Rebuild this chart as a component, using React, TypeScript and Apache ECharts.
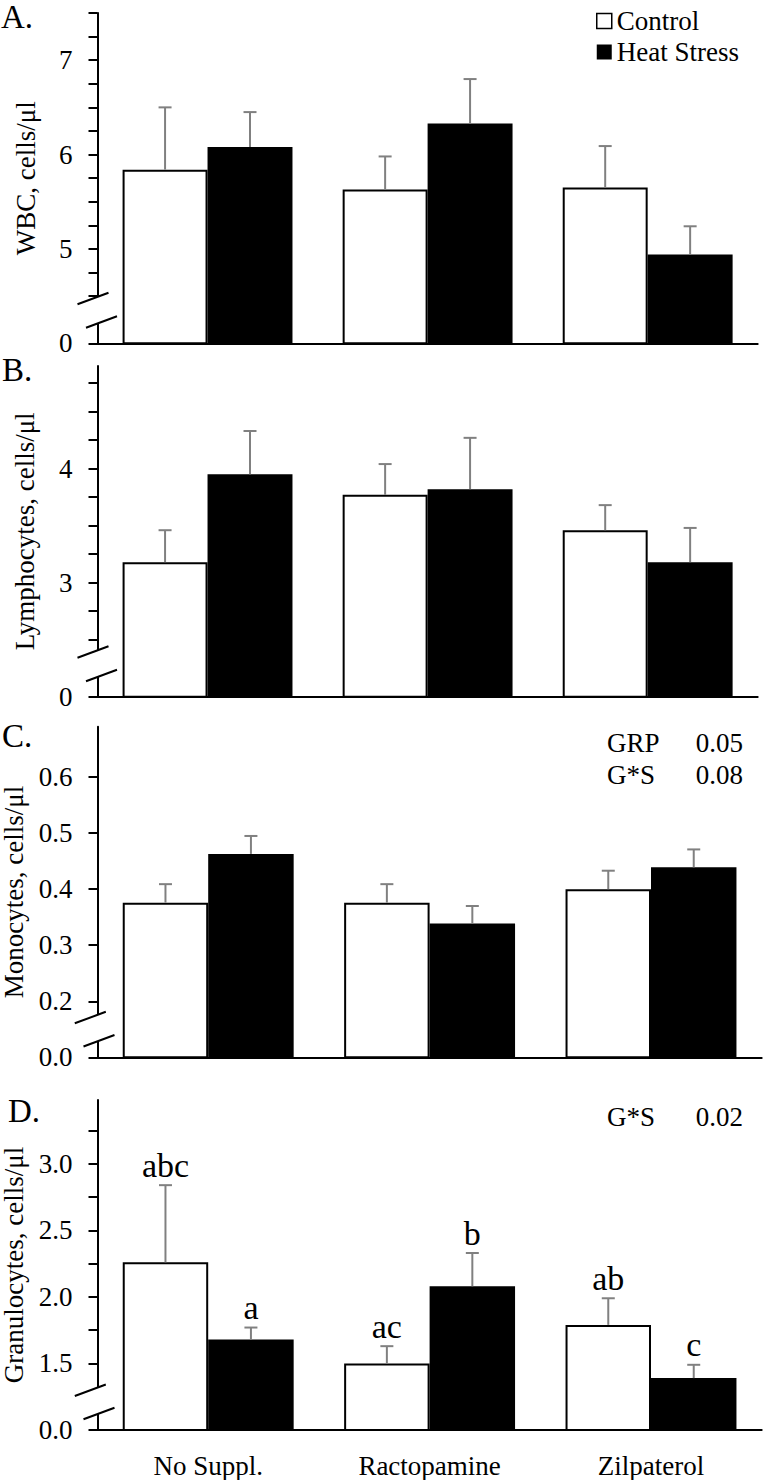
import React, { useEffect, useRef } from 'react';
import * as echarts from 'echarts';

const FONT = 'Liberation Serif, Times New Roman, serif';
const FS = 27;

const categories = ['No Suppl.', 'Ractopamine', 'Zilpaterol'];
const groupNames = ['Control', 'Heat Stress'];

// A. WBC
const wbcControl = [5.84, 5.63, 5.65];
const wbcControlSE = [0.66, 0.35, 0.44];
const wbcHeat = [6.08, 6.33, 4.94];
const wbcHeatSE = [0.37, 0.47, 0.3];
const wbcZero = 4.0; // axis position standing for 0 below the break
const wbcMax = 7.5;
const wbcTicks = [4.0, 4.5, 4.75, 5, 5.25, 5.5, 5.75, 6, 6.25, 6.5, 6.75, 7, 7.25, 7.5];
const wbcLabels = [5, 6, 7];

// B. Lymphocytes
const lymControl = [3.18, 3.77, 3.46];
const lymControlSE = [0.28, 0.27, 0.22];
const lymHeat = [3.95, 3.82, 3.18];
const lymHeatSE = [0.38, 0.45, 0.3];
const lymZero = 2.0;
const lymMax = 4.9;
const lymTicks = [2.0, 2.5, 2.75, 3, 3.25, 3.5, 3.75, 4, 4.25, 4.5, 4.75];
const lymLabels = [3, 4];

// C. Monocytes
const monControl = [0.376, 0.376, 0.4];
const monControlSE = [0.033, 0.033, 0.033];
const monHeat = [0.463, 0.339, 0.439];
const monHeatSE = [0.032, 0.031, 0.032];
const monZero = 0.1;
const monMax = 0.69;
const monTicks = [0.1, 0.2, 0.3, 0.4, 0.5, 0.6];
const monLabels = [0.2, 0.3, 0.4, 0.5, 0.6];
const monStats = [['GRP', '0.05'], ['G*S', '0.08']];

// D. Granulocytes
const graControl = [2.26, 1.5, 1.79];
const graControlSE = [0.58, 0.13, 0.2];
const graHeat = [1.68, 2.08, 1.39];
const graHeatSE = [0.09, 0.25, 0.1];
const graZero = 1.0;
const graMax = 3.48;
const graTicks = [1.0, 1.5, 1.75, 2, 2.25, 2.5, 2.75, 3, 3.25];
const graLabels = [1.5, 2, 2.5, 3];
const graControlLetters = ['abc', 'ac', 'ab'];
const graHeatLetters = ['a', 'b', 'c'];
const graStats = [['G*S', '0.02']];

const panels = [
  { letter: 'A.', name: 'WBC, cells/μl', ctrl: wbcControl, ctrlSE: wbcControlSE, heat: wbcHeat, heatSE: wbcHeatSE, zero: wbcZero, zeroText: '0', max: wbcMax, ticks: wbcTicks, labels: wbcLabels, digits: 0, ctrlLetters: null as string[] | null, heatLetters: null as string[] | null, stats: [] as string[][] },
  { letter: 'B.', name: 'Lymphocytes, cells/μl', ctrl: lymControl, ctrlSE: lymControlSE, heat: lymHeat, heatSE: lymHeatSE, zero: lymZero, zeroText: '0', max: lymMax, ticks: lymTicks, labels: lymLabels, digits: 0, ctrlLetters: null, heatLetters: null, stats: [] },
  { letter: 'C.', name: 'Monocytes, cells/μl', ctrl: monControl, ctrlSE: monControlSE, heat: monHeat, heatSE: monHeatSE, zero: monZero, zeroText: '0.0', max: monMax, ticks: monTicks, labels: monLabels, digits: 1, ctrlLetters: null, heatLetters: null, stats: monStats },
  { letter: 'D.', name: 'Granulocytes, cells/μl', ctrl: graControl, ctrlSE: graControlSE, heat: graHeat, heatSE: graHeatSE, zero: graZero, zeroText: '0.0', max: graMax, ticks: graTicks, labels: graLabels, digits: 1, ctrlLetters: graControlLetters, heatLetters: graHeatLetters, stats: graStats },
];

// pixel layout of each panel
const AX_LEFT = 97.5;
const layout = [
  { top: 13, bottom: 343.3, right: 757.7, nameGap: 58, letterX: 1, letterY: 16.5, brk: 0, statsY: 0 },
  { top: 366, bottom: 696.7, right: 757.7, nameGap: 59, letterX: 2, letterY: 370, brk: 0, statsY: 0 },
  { top: 726.7, bottom: 1057.3, right: 761.7, nameGap: 62, letterX: 2, letterY: 736, brk: 1, statsY: 742.7 },
  { top: 1100, bottom: 1430, right: 761.7, nameGap: 62, letterX: 8, letterY: 1111, brk: 1, statsY: 1116.7 },
];

const makeErr = (side: number, letters: string[] | null) => (params: any, api: any) => {
  const ci = api.value(0);
  const m = api.value(1);
  const se = api.value(2);
  const band = api.size([1, 0])[0];
  const p0 = api.coord([ci, m]);
  const p1 = api.coord([ci, m + se]);
  const x = p0[0] + side * band * 0.193;
  const st = { stroke: '#808080', lineWidth: 2 };
  const children: any[] = [
    { type: 'line', shape: { x1: x, y1: p0[1], x2: x, y2: p1[1] }, style: st },
    { type: 'line', shape: { x1: x - 6.5, y1: p1[1], x2: x + 6.5, y2: p1[1] }, style: st },
  ];
  if (letters) {
    children.push({
      type: 'text',
      x,
      y: p1[1] - 3,
      style: { text: letters[params.dataIndex], fill: '#000', fontSize: 34, fontFamily: FONT, align: 'center', verticalAlign: 'bottom' },
    });
  }
  return { type: 'group', children };
};

function buildOption() {
  const grid: any[] = [];
  const xAxis: any[] = [];
  const yAxis: any[] = [];
  const series: any[] = [];
  const graphic: any[] = [];

  panels.forEach((p, i) => {
    const L = layout[i];
    grid.push({ left: AX_LEFT, top: L.top, width: L.right - AX_LEFT, height: L.bottom - L.top, containLabel: false, outerBoundsMode: 'none' });
    xAxis.push({
      type: 'category',
      gridIndex: i,
      data: categories,
      boundaryGap: true,
      axisLine: { show: true, onZero: false, lineStyle: { color: '#000', width: 2 } },
      axisTick: { show: false },
      axisLabel: { show: i === 3, margin: 22, fontSize: FS, fontFamily: FONT, color: '#000' },
      splitLine: { show: false },
    });
    const zero = p.zero;
    const digits = p.digits;
    const zeroText = p.zeroText;
    yAxis.push({
      type: 'value',
      gridIndex: i,
      min: zero,
      max: p.max,
      axisLine: { show: true, onZero: false, lineStyle: { color: '#000', width: 2 } },
      axisTick: { show: true, inside: false, length: 9, lineStyle: { color: '#000', width: 2 }, customValues: p.ticks },
      axisLabel: {
        show: true,
        margin: 25,
        fontSize: FS,
        fontFamily: FONT,
        color: '#000',
        customValues: [zero, ...p.labels],
        formatter: (v: number) => (Math.abs(v - zero) < 1e-9 ? zeroText : v.toFixed(digits)),
      },
      splitLine: { show: false },
      name: p.name,
      nameLocation: 'middle',
      nameRotate: 90,
      nameGap: L.nameGap,
      nameTextStyle: { fontSize: FS, fontFamily: FONT, color: '#000' },
    });

    series.push({
      type: 'bar',
      name: groupNames[0],
      xAxisIndex: i,
      yAxisIndex: i,
      data: p.ctrl,
      barWidth: '38.6%',
      barGap: '0%',
      itemStyle: { color: '#ffffff', borderColor: '#000', borderWidth: 2 },
      z: 2,
    });
    series.push({
      type: 'bar',
      name: groupNames[1],
      xAxisIndex: i,
      yAxisIndex: i,
      data: p.heat,
      barWidth: '38.6%',
      barGap: '0%',
      itemStyle: { color: '#000000', borderColor: '#000', borderWidth: 2 },
      z: 2,
    });
    series.push({
      type: 'custom',
      name: 'errCtrl' + i,
      xAxisIndex: i,
      yAxisIndex: i,
      data: p.ctrl.map((v, k) => [k, v, p.ctrlSE[k]]),
      encode: { x: 0, y: 1 },
      renderItem: makeErr(-1, p.ctrlLetters),
      z: 5,
    });
    series.push({
      type: 'custom',
      name: 'errHeat' + i,
      xAxisIndex: i,
      yAxisIndex: i,
      data: p.heat.map((v, k) => [k, v, p.heatSE[k]]),
      encode: { x: 0, y: 1 },
      renderItem: makeErr(1, p.heatLetters),
      z: 5,
    });

    // panel letter
    graphic.push({
      type: 'text',
      x: L.letterX,
      y: L.letterY,
      z: 60,
      style: { text: p.letter, fontSize: 33, fontFamily: FONT, fill: '#000', align: 'left', verticalAlign: 'middle' },
    });

    // stats annotation
    p.stats.forEach((row, r) => {
      const y = L.statsY + r * 32.3;
      graphic.push({ type: 'text', x: 607, y, z: 60, style: { text: row[0], fontSize: FS, fontFamily: FONT, fill: '#000', align: 'left', verticalAlign: 'middle' } });
      graphic.push({ type: 'text', x: 743, y, z: 60, style: { text: row[1], fontSize: FS, fontFamily: FONT, fill: '#000', align: 'right', verticalAlign: 'middle' } });
    });

    // axis break marks
    const by = L.bottom;
    const ax = AX_LEFT;
    const up = L.brk ? { dx: -22.7, dy: -34 } : { dx: -20, dy: -39 };
    const lo = L.brk ? { dx: -14, dy: -10.8 } : { dx: -11.5, dy: -15.5 };
    const w = 31;
    const h = 11.5;
    graphic.push({
      type: 'polygon',
      z: 50,
      shape: {
        points: [
          [ax + up.dx, by + up.dy],
          [ax + up.dx + w, by + up.dy - h],
          [ax + lo.dx + w, by + lo.dy - h],
          [ax + lo.dx, by + lo.dy],
        ],
      },
      style: { fill: '#ffffff' },
    });
    [up, lo].forEach((s) => {
      graphic.push({
        type: 'line',
        z: 51,
        shape: { x1: ax + s.dx, y1: by + s.dy, x2: ax + s.dx + w, y2: by + s.dy - h },
        style: { stroke: '#000', lineWidth: 2 },
      });
    });
  });

  return {
    animation: false,
    backgroundColor: '#ffffff',
    textStyle: { fontFamily: FONT, fontSize: FS, color: '#000' },
    legend: {
      show: true,
      orient: 'vertical',
      left: 596,
      top: 6.5,
      padding: 0,
      itemWidth: 15,
      itemHeight: 15,
      itemGap: 2,
      selectedMode: false,
      icon: 'rect',
      textStyle: { fontSize: FS, fontFamily: FONT, color: '#000', lineHeight: 29 },
      data: [
        { name: groupNames[0], itemStyle: { color: '#ffffff', borderColor: '#000', borderWidth: 1.5 } },
        { name: groupNames[1], itemStyle: { color: '#000000', borderColor: '#000', borderWidth: 0 } },
      ],
    },
    grid,
    xAxis,
    yAxis,
    series,
    graphic,
  };
}

export default function App() {
  const ref = useRef<HTMLDivElement>(null);
  useEffect(() => {
    if (!ref.current) return;
    const chart = echarts.init(ref.current, undefined, { renderer: 'svg' });
    chart.setOption(buildOption() as any);
    return () => chart.dispose();
  }, []);
  return (
    <div
      ref={ref}
      style={{ position: 'absolute', left: 0, top: 0, width: 764, height: 1480, background: '#fff' }}
    />
  );
}
